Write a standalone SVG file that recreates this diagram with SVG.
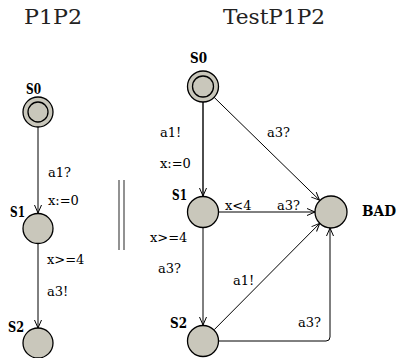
<svg xmlns="http://www.w3.org/2000/svg" width="398" height="358" viewBox="0 0 398 358">
<style>
.node{fill:#c9c7bb;stroke:#000;stroke-width:1.3}
.inner{fill:none;stroke:#000;stroke-width:1.3}
text{font-family:'DejaVu Serif','Liberation Serif',serif}
.nl{font-weight:bold;font-size:14px;fill:#000}
.lbl{font-size:13px;fill:#000}
.title{font-size:20px;fill:#222}
.edge{fill:none;stroke:#000;stroke-width:1;marker-end:url(#arr)}
.sep{stroke:#777;stroke-width:1.6}
</style>
<defs>
<marker id="arr" markerUnits="userSpaceOnUse" markerWidth="12" markerHeight="10" refX="9" refY="4" orient="auto">
<path d="M1,0.5 L9,4 L1,7.5" fill="none" stroke="#000" stroke-width="1"/>
</marker>
</defs>
<text class="title" x="24" y="24" textLength="58" lengthAdjust="spacingAndGlyphs">P1P2</text>
<text class="title" x="223" y="24" textLength="102" lengthAdjust="spacingAndGlyphs">TestP1P2</text>
<g id="separator">
<line class="sep" x1="119" y1="180" x2="119" y2="250"/>
<line class="sep" x1="124" y1="180" x2="124" y2="250"/>
</g>
<g id="connectors">
<line class="edge" x1="38" y1="127" x2="38" y2="213"/>
<line class="edge" x1="38" y1="243.5" x2="38" y2="328"/>
<line class="edge" x1="203" y1="102" x2="203" y2="196" style="stroke-width:1.4"/>
<line class="edge" x1="214.2" y1="97.4" x2="319.5" y2="200.2"/>
<line class="edge" x1="219" y1="212" x2="315" y2="212"/>
<line class="edge" x1="203" y1="228" x2="203" y2="325"/>
<line class="edge" x1="214.3" y1="329.6" x2="319.7" y2="223.4"/>
<path class="edge" d="M219,341 L326,341 Q330,341 330,337 L330,228"/>
</g>
<g id="labels">
<text class="lbl" x="48" y="177">a1?</text>
<text class="lbl" x="48" y="205">x:=0</text>
<text class="lbl" x="47" y="264">x&gt;=4</text>
<text class="lbl" x="47" y="296">a3!</text>
<text class="lbl" x="160" y="137">a1!</text>
<text class="lbl" x="160" y="168">x:=0</text>
<text class="lbl" x="267" y="137">a3?</text>
<text class="lbl" x="225" y="210">x&lt;4</text>
<text class="lbl" x="277" y="210">a3?</text>
<text class="lbl" x="150" y="242">x&gt;=4</text>
<text class="lbl" x="158" y="273">a3?</text>
<text class="lbl" x="233" y="285">a1!</text>
<text class="lbl" x="298" y="327">a3?</text>
</g>
<g id="P1P2_S0">
<circle class="node" cx="38" cy="112" r="15"/>
<circle class="inner" cx="38" cy="112" r="10"/>
<text class="nl" x="26" y="94" textLength="15" lengthAdjust="spacingAndGlyphs">S0</text>
</g>
<g id="P1P2_S1">
<circle class="node" cx="38" cy="228.5" r="15"/>
<text class="nl" x="10" y="217" textLength="15" lengthAdjust="spacingAndGlyphs">S1</text>
</g>
<g id="P1P2_S2">
<circle class="node" cx="38" cy="343" r="15"/>
<text class="nl" x="8" y="332" textLength="16" lengthAdjust="spacingAndGlyphs">S2</text>
</g>
<g id="Test_S0">
<circle class="node" cx="203" cy="86.5" r="15.5"/>
<circle class="inner" cx="203" cy="86.5" r="10.5"/>
<text class="nl" x="190" y="63" textLength="17" lengthAdjust="spacingAndGlyphs">S0</text>
</g>
<g id="Test_S1">
<circle class="node" cx="203" cy="212" r="15.5"/>
<text class="nl" x="172" y="200" textLength="15" lengthAdjust="spacingAndGlyphs">S1</text>
</g>
<g id="Test_S2">
<circle class="node" cx="203" cy="341" r="15.5"/>
<text class="nl" x="170" y="328" textLength="17" lengthAdjust="spacingAndGlyphs">S2</text>
</g>
<g id="Test_BAD">
<circle class="node" cx="331" cy="212" r="16"/>
<text class="nl" x="362" y="216" textLength="34" lengthAdjust="spacingAndGlyphs">BAD</text>
</g>
</svg>
